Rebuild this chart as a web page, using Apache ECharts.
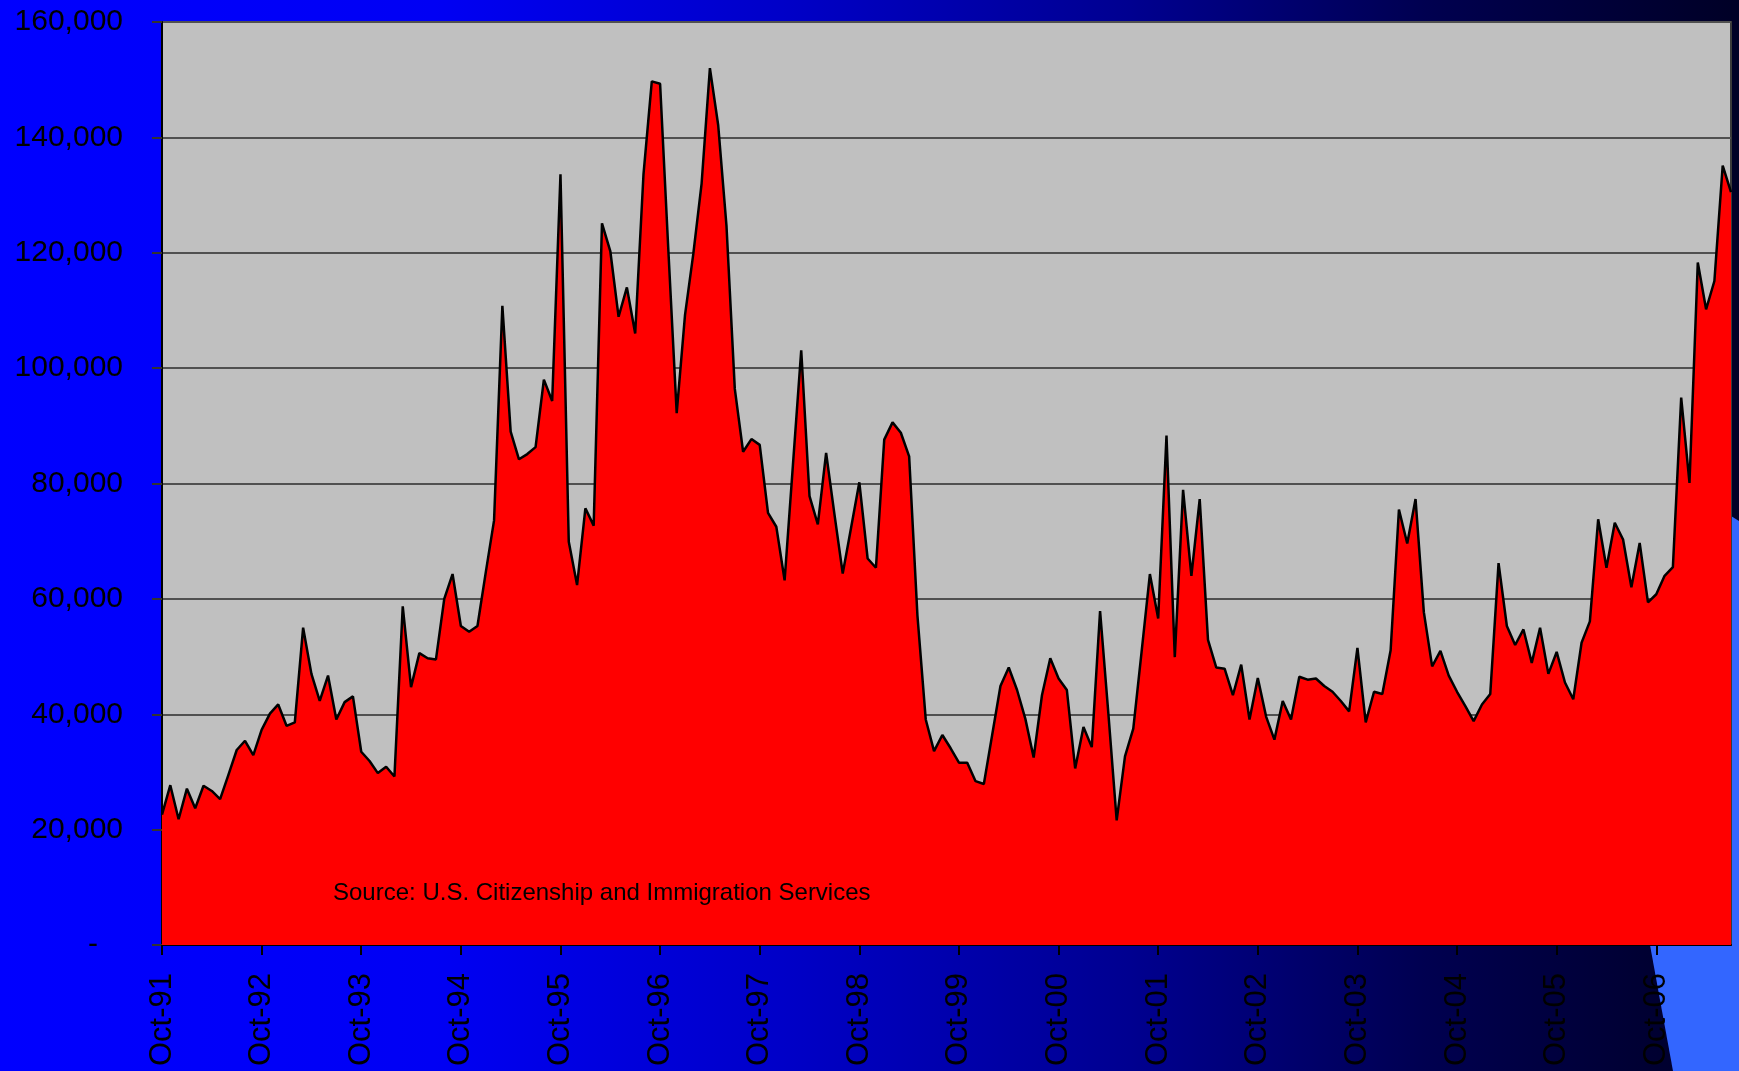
<!DOCTYPE html>
<html>
<head>
<meta charset="utf-8">
<title>Monthly applications, Oct-91 to Jul-07</title>
<script src="https://cdn.jsdelivr.net/npm/echarts@6/dist/echarts.min.js"></script>
<style>
  html, body { margin: 0; padding: 0; }
  #chart {
    width: 1739px;
    height: 1071px;
    background: linear-gradient(to right, #0000ff 0%, #0000f4 25%, #0000c8 45%, #000090 65%, #000050 82%, #000026 100%);
  }
</style>
</head>
<body>
<div id="chart"></div>
<script>
// monthly values by fiscal year (Oct .. Sep)
const fy1992 = [22600, 27700, 21800, 27100, 23700, 27600, 26700, 25300, 29500, 33800, 35400, 32900];
const fy1993 = [37300, 40100, 41700, 38000, 38600, 55000, 47000, 42300, 46700, 39100, 42100, 43100];
const fy1994 = [33500, 31900, 29800, 30900, 29200, 58700, 44700, 50600, 49700, 49500, 60000, 64300];
const fy1995 = [55300, 54300, 55300, 64600, 73600, 110800, 89000, 84200, 85100, 86300, 98000, 94300];
const fy1996 = [133600, 69900, 62400, 75700, 72700, 125100, 120300, 108900, 114000, 106000, 133600, 149700];
const fy1997 = [149300, 120300, 92200, 109200, 119800, 132000, 152000, 142100, 124600, 96400, 85500, 87700];
const fy1998 = [86700, 74900, 72500, 63200, 83200, 103100, 77800, 72900, 85300, 74700, 64400, 72300];
const fy1999 = [80200, 67000, 65400, 87600, 90600, 88800, 84700, 57100, 39100, 33600, 36400, 34100];
const fy2000 = [31600, 31600, 28400, 27900, 36400, 44900, 48100, 44200, 39200, 32500, 43300, 49700];
const fy2001 = [46200, 44200, 30600, 37800, 34300, 57900, 40100, 21600, 32700, 37500, 50800, 64300];
const fy2002 = [56600, 88300, 49900, 78900, 64000, 77300, 52900, 48100, 47900, 43300, 48600, 39100];
const fy2003 = [46300, 39600, 35600, 42300, 39100, 46500, 46000, 46200, 44900, 43900, 42300, 40500];
const fy2004 = [51500, 38600, 43900, 43500, 51100, 75500, 69600, 77300, 57700, 48300, 51000, 46700];
const fy2005 = [43900, 41400, 38800, 41700, 43500, 66200, 55300, 52000, 54700, 48900, 55000, 47000];
const fy2006 = [50800, 45500, 42600, 52400, 56100, 73800, 65400, 73200, 70300, 62000, 69700, 59400];
const fy2007 = [60800, 64000, 65500, 94900, 80100, 118300, 110200, 115100, 135100, 130500];

const monthNames = ['Oct', 'Nov', 'Dec', 'Jan', 'Feb', 'Mar', 'Apr', 'May', 'Jun', 'Jul', 'Aug', 'Sep'];
const fiscalYears = [fy1992, fy1993, fy1994, fy1995, fy1996, fy1997, fy1998, fy1999,
                     fy2000, fy2001, fy2002, fy2003, fy2004, fy2005, fy2006, fy2007];

// categories like "Oct-91", "Nov-91", ...
const months = [];
const values = [];
fiscalYears.forEach(function (fy, k) {
  fy.forEach(function (v, i) {
    const year = 1991 + k + (i >= 3 ? 1 : 0);
    months.push(monthNames[i] + '-' + String(year % 100).padStart(2, '0'));
    values.push(v);
  });
});

const FONT = '"Liberation Sans", Arial, sans-serif';

const chart = echarts.init(document.getElementById('chart'));
chart.setOption({
  animation: false,
  backgroundColor: 'transparent',
  grid: {
    left: 162,
    right: 8,
    top: 22,
    bottom: 126,
    show: true,
    backgroundColor: '#c0c0c0',
    borderColor: '#3a3a3a',
    borderWidth: 2
  },
  graphic: [
    {
      // light blue decoration at the lower right
      type: 'polygon',
      z: -10,
      shape: {
        points: [[1600, 600], [1731, 516], [1739, 521], [1739, 1071], [1673, 1071], [1660, 1000], [1650, 945]]
      },
      style: { fill: '#3366ff' }
    },
    {
      type: 'text',
      left: 333,
      top: 881,
      z: 10,
      style: {
        text: 'Source: U.S. Citizenship and Immigration Services',
        font: '24px ' + FONT,
        fill: '#000000'
      }
    }
  ],
  xAxis: {
    type: 'category',
    data: months,
    boundaryGap: false,
    axisLine: { lineStyle: { color: '#000000', width: 2 } },
    axisTick: {
      interval: function (i) { return i % 12 === 0; },
      length: 10,
      lineStyle: { color: '#000000', width: 2 }
    },
    axisLabel: {
      interval: function (i) { return i % 12 === 0; },
      rotate: 90,
      margin: 28,
      fontSize: 31,
      fontFamily: FONT,
      color: '#000000'
    },
    splitLine: { show: false }
  },
  yAxis: {
    type: 'value',
    min: 0,
    max: 160000,
    interval: 20000,
    axisLine: { show: true, lineStyle: { color: '#000000', width: 2 } },
    axisTick: { show: true, length: 10, lineStyle: { color: '#333333', width: 2 } },
    axisLabel: {
      margin: 39,
      fontSize: 30,
      fontFamily: FONT,
      color: '#000000',
      formatter: function (v) {
        return v === 0 ? '-   ' : v.toLocaleString('en-US');
      }
    },
    splitLine: { show: true, lineStyle: { color: '#505050', width: 2 } }
  },
  series: [
    {
      type: 'line',
      data: values,
      symbol: 'none',
      lineStyle: { color: '#000000', width: 2.5 },
      areaStyle: { color: '#ff0000', opacity: 1 }
    }
  ]
});
</script>
</body>
</html>
